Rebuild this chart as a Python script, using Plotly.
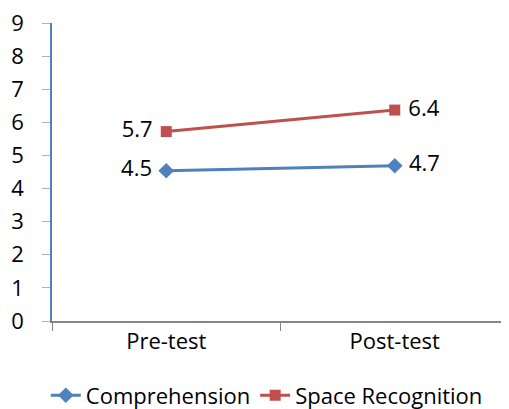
import plotly.graph_objects as go

categories = ["Pre-test", "Post-test"]
comprehension = [4.54, 4.69]
space_recognition = [5.72, 6.37]
y_ticks = [0, 1, 2, 3, 4, 5, 6, 7, 8, 9]

font = dict(family="Open Sans", size=22, color="#000000")
NB = "\u00a0"


def labels(values):
    out = []
    for i, v in enumerate(values):
        s = f"{v:.1f}"
        out.append(s + NB if i == 0 else NB + s)
    return out


fig = go.Figure()
fig.add_trace(go.Scatter(
    x=categories, y=comprehension, name="Comprehension",
    mode="lines+markers+text",
    line=dict(color="#4F81BD", width=3),
    marker=dict(symbol="diamond", size=12, color="#4F81BD"),
    text=labels(comprehension),
    textposition=["middle left", "middle right"],
    textfont=font, cliponaxis=False,
))
fig.add_trace(go.Scatter(
    x=categories, y=space_recognition, name="Space Recognition",
    mode="lines+markers+text",
    line=dict(color="#C0504D", width=3),
    marker=dict(symbol="square", size=11, color="#C0504D"),
    text=labels(space_recognition),
    textposition=["middle left", "middle right"],
    textfont=font, cliponaxis=False,
))

# page body adds an 8px offset; figure is sized so the plot area lands where the reference has it
fig.update_layout(
    width=501, height=401,
    margin=dict(l=44, r=0, t=15, b=88, autoexpand=False),
    paper_bgcolor="white", plot_bgcolor="white",
    font=font,
    showlegend=True,
    legend=dict(orientation="h", x=0.47, xanchor="center", y=-0.25, yanchor="middle",
                font=font, itemwidth=30, tracegroupgap=0),
)
fig.update_xaxes(
    type="category", range=[-0.5, 1.5], automargin=False,
    showline=True, linecolor="#868686", linewidth=1.5,
    ticks="outside", tickson="boundaries", ticklen=8, tickcolor="#868686",
    showgrid=False, zeroline=False, tickfont=font,
)
fig.update_yaxes(
    range=[0, 9], tickvals=y_ticks, automargin=False,
    showline=True, linecolor="#4F81BD", linewidth=1.5,
    ticks="outside", ticklen=8, tickcolor="#9DB6D8",
    showgrid=False, zeroline=False, tickfont=font,
    ticklabelstandoff=14, ticklabeloverflow="allow",
)

fig.write_html("out.html")
